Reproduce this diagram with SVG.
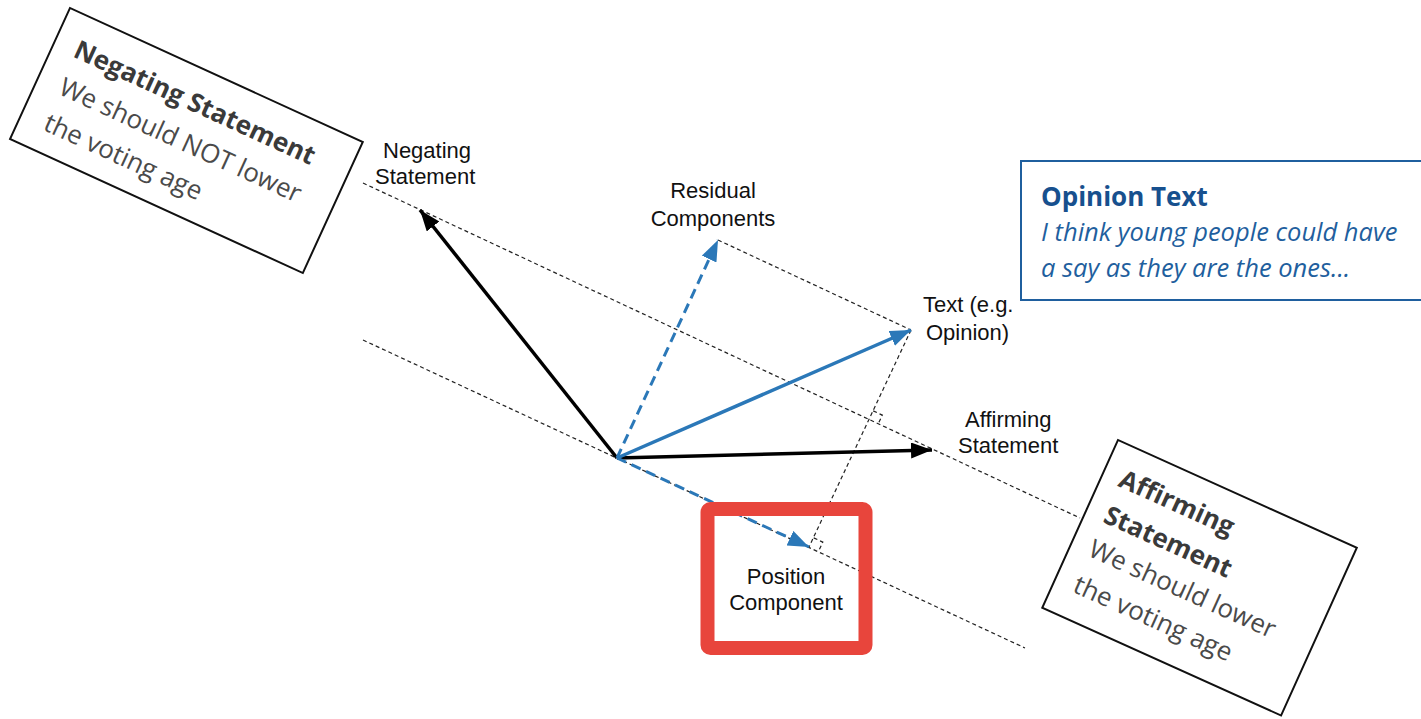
<svg xmlns="http://www.w3.org/2000/svg" width="1421" height="719" viewBox="0 0 1421 719">
<style>
.lbl{font-family:"Liberation Sans",Arial,sans-serif;font-size:22px;fill:#111}
.dot{stroke:#222;stroke-width:1.2;stroke-dasharray:4 3;fill:none}
.card{fill:#fff;stroke:#111;stroke-width:2}
.cb{font-family:"Open Sans","Noto Sans",sans-serif;font-weight:700;font-size:26px;fill:#3a3a3a}
.cr{font-family:"Open Sans","Noto Sans",sans-serif;font-size:26px;fill:#4a4a4a}
</style>
<defs>
<marker id="ahk" markerUnits="userSpaceOnUse" markerWidth="24" markerHeight="18" refX="21" refY="8" orient="auto"><path d="M0,0 L21,8 L0,16 z" fill="#000"/></marker>
<marker id="ahb" markerUnits="userSpaceOnUse" markerWidth="24" markerHeight="18" refX="21" refY="8" orient="auto"><path d="M0,0 L21,8 L0,16 z" fill="#2b78b8"/></marker>
</defs>
<rect width="1421" height="719" fill="#fff"/>
<g id="guides">
<line class="dot" x1="363" y1="183" x2="1080" y2="518"/>
<line class="dot" x1="363" y1="340" x2="1025" y2="648"/>
<line class="dot" x1="718" y1="240" x2="911" y2="330"/>
<line class="dot" x1="911" y1="330" x2="809" y2="547"/>
<path class="dot" stroke-dasharray="none" d="M873.2,410.9 L882.3,415.1 L878.1,424.2"/>
<path class="dot" stroke-dasharray="none" d="M813.7,537.9 L822.8,542.1 L818.6,551.2"/>
</g>
<g id="connectors">
<line x1="617" y1="458" x2="420" y2="210" stroke="#000" stroke-width="3.5" marker-end="url(#ahk)"/>
<line x1="617" y1="458" x2="932" y2="450" stroke="#000" stroke-width="3.5" marker-end="url(#ahk)"/>
<line x1="617" y1="458" x2="911" y2="330" stroke="#2b78b8" stroke-width="3.5" marker-end="url(#ahb)"/>
<line x1="617" y1="458" x2="718" y2="240" stroke="#2b78b8" stroke-width="3" stroke-dasharray="10 6" marker-end="url(#ahb)"/>
<line x1="617" y1="458" x2="809" y2="547" stroke="#2b78b8" stroke-width="3" stroke-dasharray="10 6" marker-end="url(#ahb)"/>
</g>
<g id="label-negating">
<text class="lbl" x="383" y="158">Negating</text>
<text class="lbl" x="375" y="184">Statement</text>
</g>
<g id="label-residual">
<text class="lbl" x="713" y="198" text-anchor="middle">Residual</text>
<text class="lbl" x="713" y="226" text-anchor="middle">Components</text>
</g>
<g id="label-text">
<text class="lbl" x="923" y="312">Text (e.g.</text>
<text class="lbl" x="926" y="340">Opinion)</text>
</g>
<g id="label-affirming">
<text class="lbl" x="965" y="427">Affirming</text>
<text class="lbl" x="958" y="453">Statement</text>
</g>
<g id="position-component">
<rect x="707.5" y="509" width="158" height="139" rx="3" fill="none" stroke="#e8453c" stroke-width="14"/>
<text class="lbl" x="786" y="584" text-anchor="middle">Position</text>
<text class="lbl" x="786" y="610" text-anchor="middle">Component</text>
</g>
<g id="opinion-text">
<rect x="1021" y="161" width="410" height="139" fill="#fff" stroke="#1f5f9e" stroke-width="2"/>
<text x="1041" y="206" font-family="'Open Sans','Noto Sans',sans-serif" font-weight="700" font-size="26" fill="#17508e">Opinion Text</text>
<text x="1041" y="241" font-family="'Open Sans','Noto Sans',sans-serif" font-style="italic" font-size="25.5" fill="#1f5f9e">I think young people could have</text>
<text x="1041" y="277" font-family="'Open Sans','Noto Sans',sans-serif" font-style="italic" font-size="25.5" fill="#1f5f9e">a say as they are the ones...</text>
</g>
<g id="negating-card" transform="translate(70,8) rotate(24.6)">
<rect class="card" x="0" y="0" width="322" height="144"/>
<text class="cb" x="22" y="43">Negating Statement</text>
<text class="cr" x="24" y="83">We should NOT lower</text>
<text class="cr" x="25" y="122">the voting age</text>
</g>
<g id="affirming-card" transform="translate(1118,440) rotate(24.3)">
<rect class="card" x="0" y="0" width="262" height="184"/>
<text class="cb" x="18" y="42">Affirming</text>
<text class="cb" x="19" y="81">Statement</text>
<text class="cr" x="19" y="118">We should lower</text>
<text class="cr" x="20" y="157">the voting age</text>
</g>
</svg>
